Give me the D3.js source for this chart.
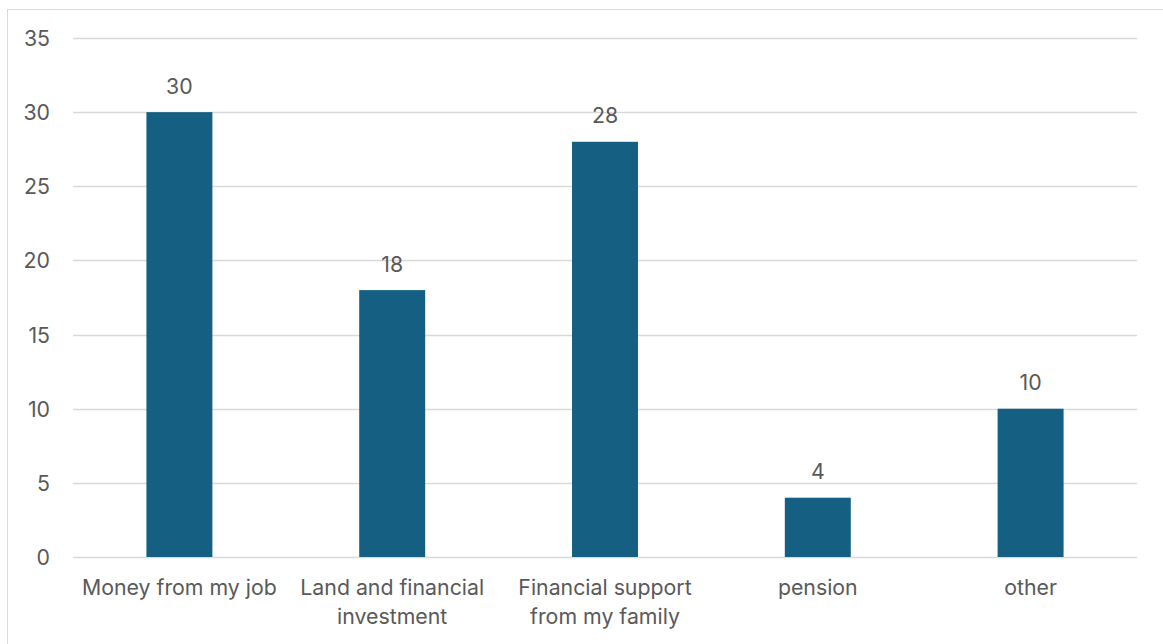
<!DOCTYPE html>
<html>
<head>
<meta charset="utf-8">
<script src="https://cdn.jsdelivr.net/npm/d3@7"></script>
<style>
  html, body { margin: 0; padding: 0; background: #fff; }
  svg { display: block; }
  text { font-family: Inter, "Noto Sans", sans-serif; fill: #595959; }
</style>
</head>
<body>
<svg id="chart" width="1163" height="644"></svg>
<script>
// Sources of income (counts of respondents)
const categories = [
  ["Money from my job"],
  ["Land and financial", "investment"],
  ["Financial support", "from my family"],
  ["pension"],
  ["other"]
];
const values = [30, 18, 28, 4, 10];
const yTicks = [0, 5, 10, 15, 20, 25, 30, 35];

const W = 1163, H = 644;
const plot = { left: 73, right: 1137, top: 38, bottom: 557 };
const FS = 21.3;

const svg = d3.select("#chart");

// outer chart frame
svg.append("rect")
  .attr("x", 7.5).attr("y", 9.5)
  .attr("width", W + 10).attr("height", H + 10)
  .attr("fill", "none").attr("stroke", "#d9d9d9").attr("stroke-width", 1);

const x = d3.scaleBand()
  .domain(d3.range(categories.length))
  .range([plot.left, plot.right])
  .paddingInner(0.69).paddingOuter(0.345);

const y = d3.scaleLinear().domain([0, 35]).range([plot.bottom, plot.top]);

// horizontal gridlines
svg.append("g").selectAll("line")
  .data(yTicks)
  .join("line")
  .attr("x1", plot.left).attr("x2", plot.right)
  .attr("y1", d => Math.round(y(d)) + 0.5).attr("y2", d => Math.round(y(d)) + 0.5)
  .attr("stroke", "#d9d9d9").attr("stroke-width", 1.5);

// y-axis labels
const yAxis = d3.axisLeft(y).tickValues(yTicks).tickSize(0).tickPadding(0);
const gy = svg.append("g").attr("transform", "translate(50,0)").call(yAxis);
gy.select(".domain").remove();
gy.selectAll("text")
  .attr("font-size", FS)
  .attr("font-family", "Inter, 'Noto Sans', sans-serif")
  .attr("fill", "#595959")
  .attr("dy", "0.35em");

// bars
svg.append("g").selectAll("rect")
  .data(values)
  .join("rect")
  .attr("x", (d, i) => x(i))
  .attr("width", x.bandwidth())
  .attr("y", d => y(d))
  .attr("height", d => y(0) - y(d))
  .attr("fill", "#156082");

// value labels
svg.append("g").selectAll("text")
  .data(values)
  .join("text")
  .attr("x", (d, i) => x(i) + x.bandwidth() / 2)
  .attr("y", d => y(d) - 18.5)
  .attr("text-anchor", "middle")
  .attr("font-size", FS)
  .text(d => d);

// category labels
const catG = svg.append("g").selectAll("text")
  .data(categories)
  .join("text")
  .attr("x", (d, i) => x(i) + x.bandwidth() / 2)
  .attr("y", 595)
  .attr("text-anchor", "middle")
  .attr("font-size", FS);
catG.selectAll("tspan")
  .data(d => d)
  .join("tspan")
  .attr("x", function () { return d3.select(this.parentNode).attr("x"); })
  .attr("dy", (d, i) => i === 0 ? 0 : 29)
  .text(d => d);
</script>
</body>
</html>
